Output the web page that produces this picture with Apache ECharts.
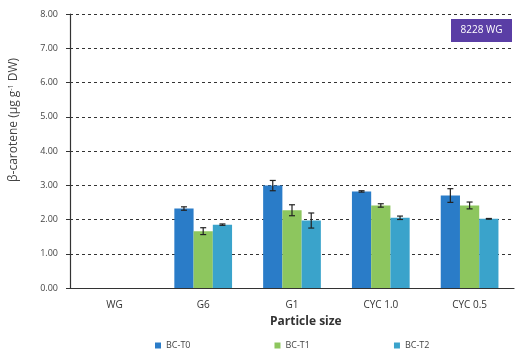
<!DOCTYPE html>
<html><head><meta charset="utf-8">
<script src="https://cdn.jsdelivr.net/npm/echarts@6/dist/echarts.min.js"></script>
<style>html,body{margin:0;padding:0;background:#fff}#c{width:520px;height:353px}</style>
</head><body><div id="c"></div>
<script>
var categories = ['WG', 'G6', 'G1', 'CYC 1.0', 'CYC 0.5'];
var seriesNames = ['BC-T0', 'BC-T1', 'BC-T2'];
var t0 = [null, 2.32, 2.99, 2.82, 2.70];
var t1 = [null, 1.66, 2.27, 2.41, 2.41];
var t2 = [null, 1.85, 1.97, 2.05, 2.02];
var e0 = [null, 0.05, 0.15, 0.02, 0.20];
var e1 = [null, 0.10, 0.16, 0.05, 0.10];
var e2 = [null, 0.02, 0.22, 0.05, 0.01];
var yTicks = ['0.00','1.00','2.00','3.00','4.00','5.00','6.00','7.00','8.00'];
var colors = ['#2a7cc8', '#8dc65e', '#3aa3cb'];
var catGap = 0.35;

var values = [t0, t1, t2];
var errs = [e0, e1, e2];
var font = 'Open Sans';

function errSeries(k) {
  var data = [];
  for (var i = 0; i < categories.length; i++) {
    if (values[k][i] == null) continue;
    data.push([i, values[k][i], errs[k][i]]);
  }
  return {
    type: 'custom', name: seriesNames[k] + ' err', silent: true, z: 5,
    data: data,
    renderItem: function (params, api) {
      var ci = api.value(0), v = api.value(1), e = api.value(2);
      var catW = api.size([1, 0])[0];
      var bw = catW * (1 - catGap) / 3;
      var cx = api.coord([ci, v])[0] + (k - 1) * bw;
      var top = api.coord([ci, v + e])[1];
      var bot = api.coord([ci, v - e])[1];
      var hw = 3;
      var st = { stroke: '#222', lineWidth: 1.2 };
      return { type: 'group', children: [
        { type: 'line', shape: { x1: cx, y1: top, x2: cx, y2: bot }, style: st },
        { type: 'line', shape: { x1: cx - hw, y1: top, x2: cx + hw, y2: top }, style: st },
        { type: 'line', shape: { x1: cx - hw, y1: bot, x2: cx + hw, y2: bot }, style: st }
      ]};
    }
  };
}

var series = [];
for (var k = 0; k < 3; k++) {
  series.push({
    type: 'bar', name: seriesNames[k], data: values[k],
    barGap: '0%', barCategoryGap: (catGap * 100) + '%',
    itemStyle: { color: colors[k] }
  });
}
for (var k2 = 0; k2 < 3; k2++) series.push(errSeries(k2));

var chart = echarts.init(document.getElementById('c'), null, { renderer: 'canvas' });
chart.setOption({
  animation: false,
  textStyle: { fontFamily: font },
  grid: { left: 70, right: 6, top: 14, bottom: 65 },
  legend: {
    data: seriesNames, left: 150, top: 336, itemWidth: 6, itemHeight: 6,
    itemGap: 84, icon: 'rect',
    textStyle: { fontSize: 9, color: '#444', fontFamily: font }
  },
  xAxis: {
    type: 'category', data: categories,
    axisLine: { lineStyle: { color: '#333', width: 1.2 } },
    axisTick: { show: false },
    axisLabel: { fontSize: 10, color: '#333', margin: 12 }
  },
  yAxis: {
    type: 'value', min: 0, max: 8, interval: 1,
    axisLine: { show: true, lineStyle: { color: '#333', width: 1.2 } },
    axisTick: { show: true, length: 4, lineStyle: { color: '#333' } },
    axisLabel: { fontSize: 9, color: '#444', margin: 12,
      formatter: function (v) { return yTicks[Math.round(v)]; } },
    splitLine: { show: true, lineStyle: { color: '#333', type: [3, 3], width: 1 } }
  },
  graphic: [
    { type: 'text', left: 7, top: 58, rotation: Math.PI / 2,
      style: { text: '{a|β-carotene (μg g}{s|-1}{a| DW)}', fill: '#444',
        rich: { a: { fontSize: 12, fontFamily: font, fill: '#444' },
                s: { fontSize: 7, fontFamily: font, fill: '#444', verticalAlign: 'top', padding: [0, 0, 6, 0] } } } },
    { type: 'text', left: 270, top: 316,
      style: { text: 'Particle size', fontSize: 12, fontWeight: 'bold', fill: '#333', fontFamily: font } },
    { type: 'group', left: 451, top: 19, children: [
      { type: 'rect', shape: { x: 0, y: 0, width: 61, height: 23 }, style: { fill: '#5a3ea5' } },
      { type: 'text', x: 30.5, y: 11.5, style: { text: '8228 WG', fontSize: 10, fill: '#fff', align: 'center', verticalAlign: 'middle', fontFamily: font } }
    ]}
  ],
  series: series
});
</script></body></html>
